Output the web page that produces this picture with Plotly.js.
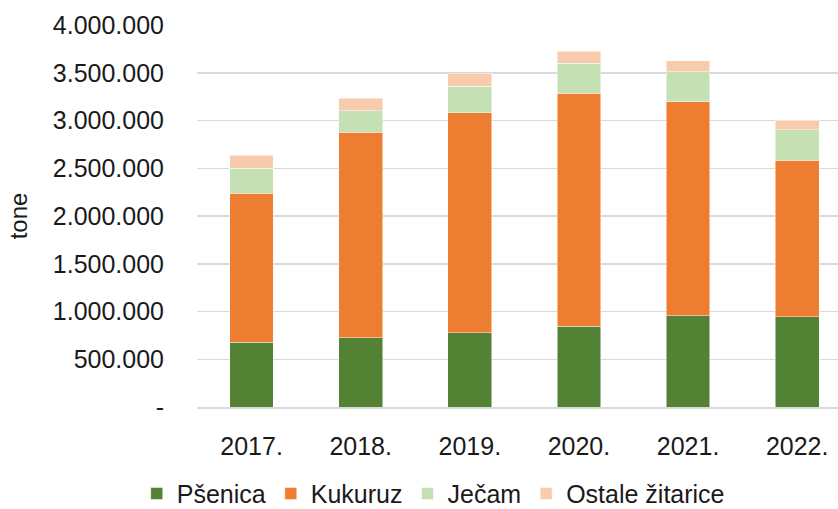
<!DOCTYPE html>
<html>
<head>
<meta charset="utf-8">
<script src="https://cdn.plot.ly/plotly-3.0.1.min.js"></script>
<style>html,body{margin:0;padding:0;background:#fff;}#chart{width:838px;height:509px;}</style>
</head>
<body>
<div id="chart"></div>
<script>
const years = ['2017.', '2018.', '2019.', '2020.', '2021.', '2022.'];
const psenica = [678000, 727000, 780000, 843000, 958000, 943000];
const kukuruz = [1559000, 2149000, 2299000, 2442000, 2236000, 1643000];
const jecam = [262000, 227000, 279000, 315000, 314000, 318000];
const ostale = [139000, 130000, 137000, 125000, 116000, 98000];
const seriesNames = ['Pšenica', 'Kukuruz', 'Ječam', 'Ostale žitarice'];
const yTickVals = [0, 500000, 1000000, 1500000, 2000000, 2500000, 3000000, 3500000, 4000000];
const yTickText = ['-', '500.000', '1.000.000', '1.500.000', '2.000.000', '2.500.000', '3.000.000', '3.500.000', '4.000.000'];

const colors = ['#548235', '#ED7D31', '#C5E0B4', '#F8CBAD'];
const values = [psenica, kukuruz, jecam, ostale];
const FONT = 'Liberation Sans, Arial, sans-serif';
const TXT = '#1a1a1a';

const traces = values.map((v, i) => ({
  type: 'bar',
  name: seriesNames[i],
  x: years,
  y: v,
  marker: { color: colors[i], line: { color: 'rgba(255,255,255,0.6)', width: 0.8 } },
  hoverinfo: 'skip'
}));

const layout = {
  width: 838,
  height: 509,
  barmode: 'stack',
  bargap: 0.6,
  paper_bgcolor: '#fff',
  plot_bgcolor: '#fff',
  margin: { l: 197, r: 0, t: 25, b: 102, pad: 0 },
  font: { family: FONT, size: 25, color: TXT },
  xaxis: {
    type: 'category',
    range: [-0.5, 5.374],
    showgrid: false,
    showline: true,
    linecolor: '#d9d9d9',
    linewidth: 1.5,
    ticks: '',
    ticklabelstandoff: 16,
    tickfont: { family: FONT, size: 25, color: TXT }
  },
  yaxis: {
    range: [0, 4000000],
    tickmode: 'array',
    tickvals: yTickVals,
    ticktext: yTickText,
    showgrid: true,
    gridcolor: '#d9d9d9',
    gridwidth: 1.5,
    zeroline: false,
    showline: false,
    ticks: '',
    ticklabelstandoff: 32,
    tickfont: { family: FONT, size: 25, color: TXT },
    title: { text: 'tone', font: { family: FONT, size: 24, color: TXT }, standoff: 18 }
  },
  showlegend: true,
  legend: {
    orientation: 'h',
    xref: 'container',
    yref: 'container',
    x: 0.517,
    xanchor: 'center',
    y: 0.03,
    yanchor: 'middle',
    font: { family: FONT, size: 25, color: TXT },
    traceorder: 'normal',
    itemwidth: 30
  }
};

Plotly.newPlot('chart', traces, layout, { displayModeBar: false, staticPlot: true });
</script>
</body>
</html>
